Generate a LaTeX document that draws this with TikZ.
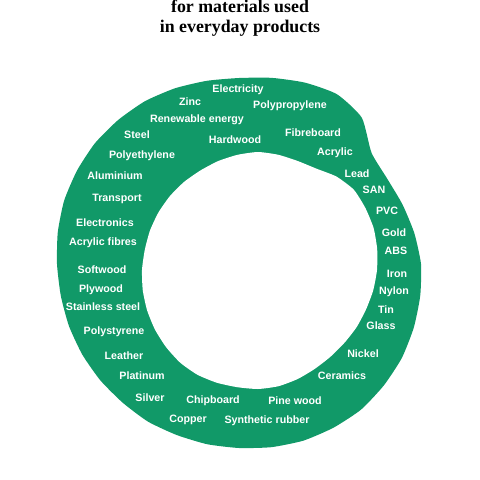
\documentclass[tikz,border=0pt]{standalone}
\usepackage{fontspec}
\setmainfont{Liberation Serif}
\newfontfamily\labelfont{Liberation Sans}
\definecolor{ringgreen}{RGB}{17,153,104}
\tikzset{
  matlabel/.style={text=white,font=\labelfont\bfseries\fontsize{7.6}{8}\selectfont,inner sep=0pt},
  titleline/.style={anchor=base,font=\bfseries\fontsize{12.7}{14}\selectfont,inner sep=0pt}
}

\begin{document}
\begin{tikzpicture}
\useasboundingbox (0.000,0.000) rectangle (12.000,-12.000);
% title
\node[titleline] (title1) at (6.000,-0.300) {for materials used};
\node[titleline] (title2) at (6.000,-0.800) {in everyday products};
% ring, outer edge
\fill[ringgreen,shift={(5.975,-6.600)}]
  plot[smooth cycle,tension=0.35] coordinates {(0:4.550) (10:4.450) (20:4.350) (30:4.275) (40:4.325)
    (50:4.775) (60:4.900) (70:4.825) (80:4.725) (90:4.650) (100:4.650) (110:4.675) (120:4.700)
    (130:4.700) (140:4.700) (150:4.675) (160:4.650) (170:4.600) (180:4.550) (190:4.525)
    (200:4.525) (210:4.525) (220:4.525) (230:4.525) (240:4.550) (250:4.550) (260:4.575)
    (270:4.600) (280:4.650) (290:4.700) (300:4.725) (310:4.750) (320:4.725) (330:4.700)
    (340:4.650) (350:4.600)};
% ring, hole
\fill[white,shift={(6.450,-6.750)}]
  plot[smooth cycle,tension=0.35] coordinates {(0:2.975) (10:3.025) (20:3.075) (30:3.100) (40:3.125)
    (50:3.050) (60:2.925) (70:2.900) (80:2.925) (90:2.950) (100:2.925) (110:2.900) (120:2.875)
    (130:2.875) (140:2.875) (150:2.875) (160:2.875) (170:2.875) (180:2.900) (190:2.925)
    (200:2.950) (210:2.975) (220:3.000) (230:3.025) (240:3.025) (250:3.000) (260:2.975)
    (270:2.975) (280:2.950) (290:2.900) (300:2.850) (310:2.825) (320:2.825) (330:2.850)
    (340:2.875) (350:2.925)};
% labels
\node[matlabel] (electricity) at (5.950,-2.250) {Electricity};
\node[matlabel] (zinc) at (4.750,-2.550) {Zinc};
\node[matlabel] (polypropylene) at (7.250,-2.650) {Polypropylene};
\node[matlabel] (renewable) at (4.925,-3.000) {Renewable energy};
\node[matlabel] (steel) at (3.425,-3.375) {Steel};
\node[matlabel] (hardwood) at (5.875,-3.500) {Hardwood};
\node[matlabel] (fibreboard) at (7.825,-3.325) {Fibreboard};
\node[matlabel] (acrylic) at (8.375,-3.825) {Acrylic};
\node[matlabel] (polyethylene) at (3.550,-3.900) {Polyethylene};
\node[matlabel] (aluminium) at (2.875,-4.400) {Aluminium};
\node[matlabel] (lead) at (8.925,-4.350) {Lead};
\node[matlabel] (san) at (9.350,-4.750) {SAN};
\node[matlabel] (transport) at (2.925,-4.975) {Transport};
\node[matlabel] (pvc) at (9.675,-5.275) {PVC};
\node[matlabel] (electronics) at (2.625,-5.575) {Electronics};
\node[matlabel] (gold) at (9.850,-5.825) {Gold};
\node[matlabel] (acrylicfibres) at (2.575,-6.075) {Acrylic fibres};
\node[matlabel] (abs) at (9.900,-6.275) {ABS};
\node[matlabel] (softwood) at (2.550,-6.750) {Softwood};
\node[matlabel] (iron) at (9.925,-6.850) {Iron};
\node[matlabel] (plywood) at (2.525,-7.250) {Plywood};
\node[matlabel] (nylon) at (9.850,-7.300) {Nylon};
\node[matlabel] (stainless) at (2.575,-7.675) {Stainless steel};
\node[matlabel] (tin) at (9.650,-7.750) {Tin};
\node[matlabel] (glass) at (9.525,-8.150) {Glass};
\node[matlabel] (polystyrene) at (2.850,-8.300) {Polystyrene};
\node[matlabel] (leather) at (3.100,-8.900) {Leather};
\node[matlabel] (nickel) at (9.075,-8.850) {Nickel};
\node[matlabel] (platinum) at (3.550,-9.400) {Platinum};
\node[matlabel] (ceramics) at (8.550,-9.400) {Ceramics};
\node[matlabel] (silver) at (3.750,-9.950) {Silver};
\node[matlabel] (chipboard) at (5.325,-10.025) {Chipboard};
\node[matlabel] (pinewood) at (7.375,-10.025) {Pine wood};
\node[matlabel] (copper) at (4.700,-10.500) {Copper};
\node[matlabel] (rubber) at (6.675,-10.525) {Synthetic rubber};
\end{tikzpicture}
\end{document}
